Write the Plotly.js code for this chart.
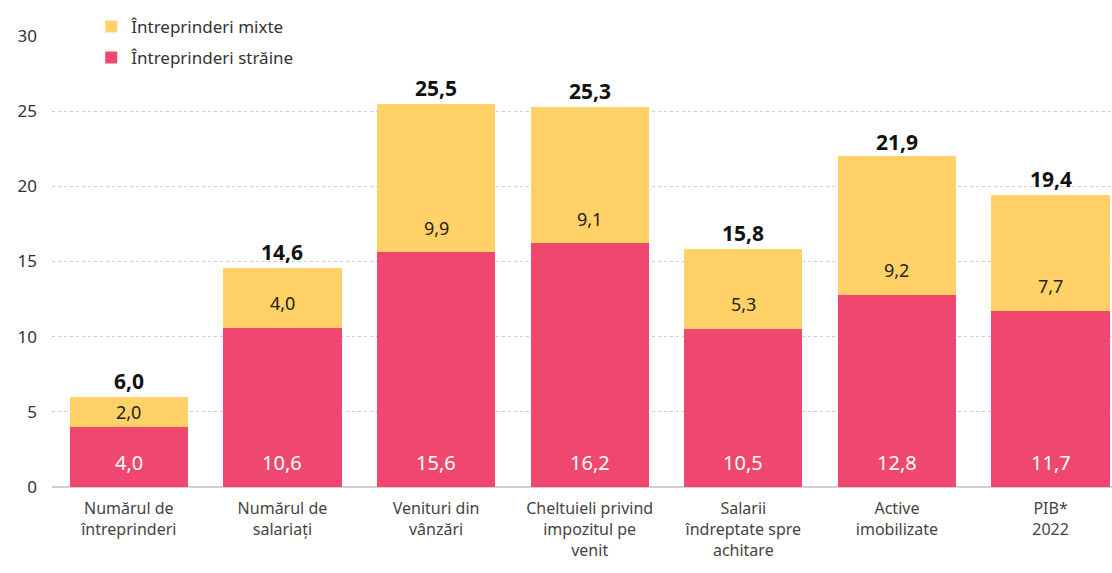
<!DOCTYPE html>
<html>
<head>
<meta charset="utf-8">
<script src="https://cdn.plot.ly/plotly-3.0.1.min.js"></script>
<style>
  html, body { margin: 0; padding: 0; background: #fff; }
  #grafic { width: 1112px; height: 573px; }
</style>
</head>
<body>
<div id="grafic"></div>
<script>
// categorii si valori (%)
const categorii = [
	"Numărul de<br>întreprinderi",
	"Numărul de<br>salariați",
	"Venituri din<br>vânzări",
	"Cheltuieli privind<br>impozitul pe<br>venit",
	"Salarii<br>îndreptate spre<br>achitare",
	"Active<br>imobilizate",
	"PIB*<br>2022",
];
const straine = [4.0, 10.6, 15.6, 16.2, 10.5, 12.8, 11.7];
const mixte = [2.0, 4.0, 9.9, 9.1, 5.3, 9.2, 7.7];
const totaluri = [6.0, 14.6, 25.5, 25.3, 15.8, 21.9, 19.4];

const culoareStraine = "#F04770";
const culoareMixte = "#FFD166";
const font = "Noto Sans, Open Sans, sans-serif";

function fmt(v) {
	return v.toFixed(1).replace(".", ",");
}

const x = categorii.map((c, i) => i);

// eticheta pusa aproape de baza segmentului
function pozEticheta(baza, val) {
	return baza + Math.min(val / 2, 1.65);
}

let annotations = [];
x.forEach((i) => {
	annotations.push({
		x: i, y: pozEticheta(0, straine[i]), text: fmt(straine[i]),
		showarrow: false, font: { family: font, size: 20, color: "#ffffff" },
	});
	annotations.push({
		x: i, y: pozEticheta(straine[i], mixte[i]), text: fmt(mixte[i]),
		showarrow: false, font: { family: font, size: 18, color: "#222222" },
	});
	annotations.push({
		x: i, y: totaluri[i], yshift: 16, text: "<b>" + fmt(totaluri[i]) + "</b>",
		showarrow: false, font: { family: font, size: 21, color: "#111111" },
	});
});

const traces = [
	{
		type: "bar", x: x, y: straine, name: "Întreprinderi străine",
		legendgroup: "s", legendrank: 2,
		marker: { color: culoareStraine }, hoverinfo: "skip",
	},
	{
		type: "bar", x: x, y: mixte, name: "Întreprinderi mixte",
		legendgroup: "m", legendrank: 1,
		marker: { color: culoareMixte }, hoverinfo: "skip",
	},
];

const layout = {
	width: 1112,
	height: 573,
	margin: { l: 52, r: 0, t: 36, b: 86 },
	barmode: "stack",
	bargap: 0.23,
	paper_bgcolor: "#ffffff",
	plot_bgcolor: "#ffffff",
	font: { family: font, color: "#333333" },
	showlegend: true,
	legend: {
		x: 0.037, y: 1.06, xanchor: "left", yanchor: "top",
		traceorder: "grouped", tracegroupgap: 6, bgcolor: "#ffffff",
		font: { family: font, size: 17, color: "#333333" },
		itemwidth: 30,
	},
	xaxis: {
		range: [-0.5, 6.4],
		tickmode: "array", tickvals: x, ticktext: categorii,
		tickfont: { family: font, size: 16, color: "#444444" },
		showgrid: false, zeroline: false, showline: false, ticks: "",
		ticklabelstandoff: 10, fixedrange: true,
	},
	yaxis: {
		range: [0, 30], dtick: 5,
		tickfont: { family: font, size: 17, color: "#333333" },
		showgrid: true, gridcolor: "#cccccc", griddash: "dot", gridwidth: 1,
		zeroline: true, zerolinecolor: "#cfcfcf", zerolinewidth: 2,
		ticklabelstandoff: 14, fixedrange: true,
	},
	annotations: annotations,
};

Plotly.newPlot("grafic", traces, layout, { displayModeBar: false, staticPlot: true });
</script>
</body>
</html>
